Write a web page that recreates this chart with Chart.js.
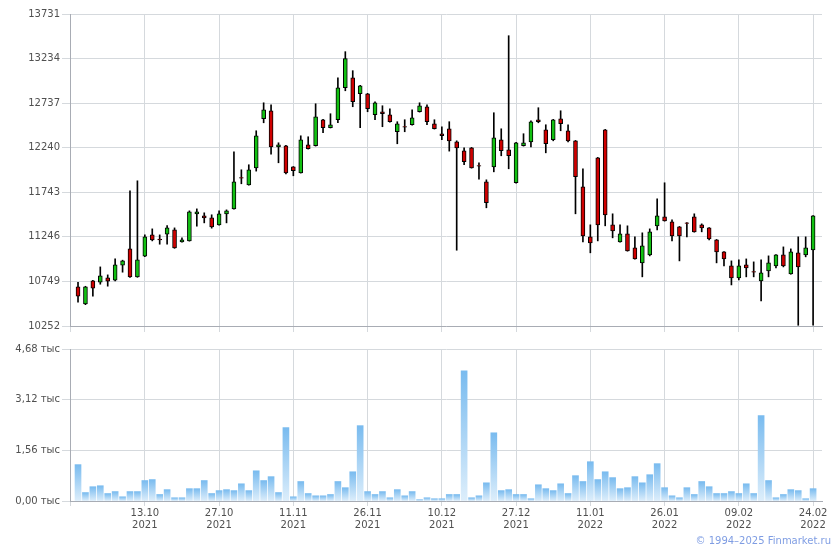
<!DOCTYPE html>
<html>
<head>
<meta charset="utf-8">
<script src="https://cdn.jsdelivr.net/npm/chart.js@4.4.0/dist/chart.umd.min.js"></script>
<style>
  body { margin: 0; background: #fff; }
  #wrap { position: relative; width: 840px; height: 550px; }
  canvas { position: absolute; left: 0; }
  #copy { position: absolute; right: 9px; top: 535px; font: 10px "DejaVu Sans", Verdana, sans-serif; color: #7f9de3; }
</style>
</head>
<body>
<div id="wrap">
  <canvas id="price" width="840" height="340" style="top:0"></canvas>
  <canvas id="vol" width="840" height="210" style="top:340px"></canvas>
  <div id="copy">© 1994–2025 Finmarket.ru</div>
</div>
<script>
// one candle per trading day, index 0..99
const opens = [10688,10498,10755,10740,10789,10762,10930,11112,10800,11030,
  11268,11220,11276,11324,11190,11201,11503,11480,11458,11380,
  11503,11558,11908,11826,12016,12563,12652,12250,12262,12027,
  11960,12273,12262,12552,12463,12552,12909,13020,12842,12842,
  12608,12641,12608,12418,12477,12496,12641,12697,12507,12396,
  12451,12306,12206,12239,12042,11860,12027,12329,12217,11849,
  12262,12306,12552,12440,12329,12563,12429,12317,11804,11246,
  12128,12440,11380,11190,11280,11123,10956,11045,11369,11469,
  11413,11358,11402,11469,11380,11346,11213,11079,10922,10789,
  10934,10859,10755,10867,10922,11045,10833,11068,11045,11101];
const closes = [10584,10688,10673,10811,10751,10934,10978,10800,10989,11246,
  11213,11213,11346,11123,11213,11525,11525,11458,11358,11503,
  11536,11860,11901,11994,12373,12663,12250,12273,11960,11983,
  12329,12228,12585,12463,12496,12909,13233,12753,12931,12674,
  12741,12619,12530,12507,12470,12574,12708,12530,12451,12373,
  12317,12239,12083,12016,12035,11626,12351,12206,12150,12295,
  12295,12530,12530,12284,12552,12507,12317,11916,11257,11179,
  11380,11492,11313,11280,11090,11000,11146,11302,11480,11425,
  11257,11257,11395,11302,11346,11224,11079,11000,10789,10922,
  10900,10852,10844,10956,11045,10922,11079,10911,11123,11480];
const highs = [10740,10695,10760,10911,10822,11000,10986,11759,11871,11268,
  11335,11268,11373,11346,11235,11536,11558,11514,11492,11536,
  11547,12195,11994,12050,12429,12741,12719,12295,12266,12030,
  12373,12362,12730,12556,12619,13020,13311,13099,12935,12846,
  12753,12708,12674,12530,12552,12663,12741,12719,12552,12474,
  12530,12317,12239,12243,12072,11882,12630,12451,13489,12299,
  12396,12541,12686,12496,12556,12652,12496,12321,12005,11380,
  12132,12444,11503,11380,11369,11246,11291,11335,11670,11849,
  11436,11362,11406,11503,11391,11350,11217,11083,10978,10989,
  11000,10967,10989,11034,11049,11134,11112,11246,11246,11484];
const lows = [10517,10490,10584,10718,10696,10755,10852,10795,10795,11025,
  11201,11164,11164,11118,11188,11198,11365,11402,11343,11376,
  11402,11555,11838,11822,11979,12518,12169,12072,11949,11927,
  11957,12225,12258,12407,12460,12518,12875,12697,12463,12641,
  12552,12474,12526,12284,12418,12492,12637,12496,12448,12329,
  12202,11097,12050,12012,11890,11570,11971,12150,12005,11845,
  12258,12250,12518,12183,12317,12429,12306,11503,11190,11068,
  11201,11369,11235,11186,11086,10996,10800,11034,11324,11421,
  11201,10978,11246,11298,11302,11213,10956,10922,10710,10766,
  10800,10800,10532,10800,10900,10911,10829,10260,11023,10260];
// volume, тыс
const volumes = [1.12,0.26,0.44,0.47,0.23,0.29,0.13,0.29,0.29,0.63,
  0.66,0.20,0.35,0.10,0.10,0.38,0.38,0.63,0.23,0.32,
  0.35,0.32,0.53,0.32,0.93,0.63,0.75,0.26,2.26,0.13,
  0.60,0.23,0.16,0.16,0.20,0.60,0.41,0.90,2.32,0.29,
  0.20,0.29,0.10,0.35,0.16,0.29,0.04,0.10,0.07,0.07,
  0.20,0.20,4.01,0.10,0.16,0.56,2.10,0.32,0.35,0.20,
  0.20,0.07,0.50,0.38,0.32,0.53,0.23,0.78,0.60,1.21,
  0.66,0.90,0.72,0.38,0.41,0.75,0.56,0.81,1.15,0.41,
  0.16,0.10,0.41,0.20,0.60,0.44,0.23,0.23,0.29,0.23,
  0.53,0.23,2.63,0.63,0.10,0.20,0.35,0.32,0.07,0.38];

const tickPos = [9, 19, 29, 39, 49, 59, 69, 79, 89, 99];
const tickDates = ['13.10', '27.10', '11.11', '26.11', '10.12', '27.12', '11.01', '26.01', '09.02', '24.02'];
const tickYears = ['2021', '2021', '2021', '2021', '2021', '2021', '2022', '2022', '2022', '2022'];
const priceTicks = [10252, 10749, 11246, 11743, 12240, 12737, 13234, 13731];
const volTicks = [0, 1.56, 3.12, 4.68];

const xMin = -1.08, xMax = 100.2;
const gridColor = '#d5d9dd', axisColor = '#a8acb4';

Chart.defaults.font.family = '"DejaVu Sans", Verdana, sans-serif';
Chart.defaults.font.size = 10;
Chart.defaults.color = '#505050';

function xAxis(showLabels, tickLen, height) {
  return {
    type: 'linear', min: xMin, max: xMax, offset: false,
    afterBuildTicks: (s) => { s.ticks = [xMin].concat(tickPos).map((v) => ({ value: v })); },
    ticks: {
      display: showLabels, autoSkip: false, maxRotation: 0, padding: 2,
      font: { lineHeight: 1.15 },
      callback: (v) => {
        let k = tickPos.indexOf(v);
        return k < 0 ? '' : [tickDates[k], tickYears[k]];
      }
    },
    grid: { offset: false, color: gridColor, tickColor: gridColor, tickLength: tickLen },
    border: { color: axisColor },
    afterFit: (s) => { s.height = height; }
  };
}

let wicks = [], bodies = [], bodyColors = [], volData = [];
opens.forEach((o, i) => {
  wicks.push({ x: i, y: [lows[i], highs[i]] });
  bodies.push({ x: i, y: [o, closes[i]] });
  bodyColors.push(closes[i] >= o ? '#12c012' : '#d00000');
  volData.push({ x: i, y: volumes[i] });
});

new Chart(document.getElementById('price'), {
  type: 'bar',
  data: {
    datasets: [
      { data: bodies, backgroundColor: bodyColors, borderColor: '#000', borderWidth: 1,
        borderSkipped: false, barThickness: 4, grouped: false, order: 1 },
      { data: wicks, backgroundColor: '#000', barThickness: 1, grouped: false, order: 2 }
    ]
  },
  options: {
    responsive: false, animation: false, devicePixelRatio: 1,
    layout: { padding: { top: 14, right: 18, left: 0, bottom: 0 } },
    plugins: { legend: { display: false }, tooltip: { enabled: false } },
    scales: {
      x: xAxis(false, 6, 14),
      y: {
        min: 10252, max: 13731,
        afterBuildTicks: (s) => { s.ticks = priceTicks.map((v) => ({ value: v })); },
        ticks: { padding: 2, callback: (v) => String(v) },
        grid: { color: gridColor, tickColor: gridColor, tickLength: 8 },
        border: { color: axisColor },
        afterFit: (s) => { s.width = 70; }
      }
    }
  }
});

new Chart(document.getElementById('vol'), {
  type: 'bar',
  data: {
    datasets: [{
      data: volData, barThickness: 6,
      backgroundColor: (ctx) => {
        let c = ctx.chart, y = c.scales.y;
        if (!y || ctx.type !== 'data' || !ctx.raw) return '#a8d4f6';
        let top = y.getPixelForValue(ctx.raw.y), bot = y.getPixelForValue(0);
        if (!isFinite(top) || !isFinite(bot) || bot - top < 1) return '#c6e2f9';
        let g = c.ctx.createLinearGradient(0, top, 0, bot);
        g.addColorStop(0, '#79bbef');
        g.addColorStop(1, '#ddeefb');
        return g;
      }
    }]
  },
  options: {
    responsive: false, animation: false, devicePixelRatio: 1,
    layout: { padding: { top: 9, right: 18, left: 0, bottom: 0 } },
    plugins: { legend: { display: false }, tooltip: { enabled: false } },
    scales: {
      x: xAxis(true, 5, 49),
      y: {
        min: 0, max: 4.68,
        afterBuildTicks: (s) => { s.ticks = volTicks.map((v) => ({ value: v })); },
        ticks: { padding: 2, callback: (v) => v.toFixed(2).replace('.', ',') + ' тыс' },
        grid: { color: gridColor, tickColor: gridColor, tickLength: 8 },
        border: { color: axisColor },
        afterFit: (s) => { s.width = 70; }
      }
    }
  }
});
</script>
</body>
</html>
